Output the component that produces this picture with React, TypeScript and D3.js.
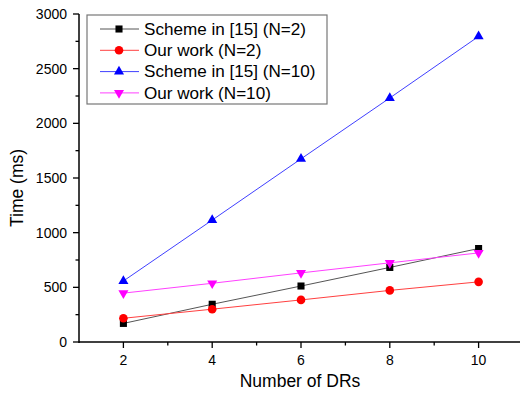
import { useEffect, useRef } from 'react';
import * as d3 from 'd3';

// Number of DRs on the x axis
const drCounts = [2, 4, 6, 8, 10];

// Time (ms) per series
const schemeN2 = [170, 345, 512, 682, 855];
const oursN2 = [217, 300, 385, 472, 550];
const schemeN10 = [558, 1115, 1675, 2232, 2795];
const oursN10 = [447, 537, 632, 724, 815];

const seriesNames = [
  'Scheme in [15] (N=2)',
  'Our work (N=2)',
  'Scheme in [15] (N=10)',
  'Our work (N=10)',
];

const xTicks = [2, 4, 6, 8, 10];
const yTicks = [0, 500, 1000, 1500, 2000, 2500, 3000];

const WIDTH = 520;
const HEIGHT = 396;

export default function App() {
  const svgRef = useRef<SVGSVGElement>(null);

  useEffect(() => {
    if (!svgRef.current) return;
    d3.select(svgRef.current).selectAll('*').remove();

    const svg = d3.select(svgRef.current);
    const font = 'Arial, "Liberation Sans", sans-serif';

    // Scales
    const x = d3.scaleLinear().domain([1, 11]).range([79, 523]);
    const y = d3.scaleLinear().domain([0, 3000]).range([342, 14]);

    const series = [
      { name: seriesNames[0], values: schemeN2, color: '#000000', line: '#555555', shape: 'square' },
      { name: seriesNames[1], values: oursN2, color: '#ff0000', line: '#ff4040', shape: 'circle' },
      { name: seriesNames[2], values: schemeN10, color: '#0000ff', line: '#4040ff', shape: 'up' },
      { name: seriesNames[3], values: oursN10, color: '#ff00ff', line: '#ff40ff', shape: 'down' },
    ];

    const symbolFor = (shape: string) => {
      if (shape === 'square') return d3.symbol(d3.symbolSquare, 50)();
      if (shape === 'circle') return d3.symbol(d3.symbolCircle, 58)();
      return d3.symbol(d3.symbolTriangle, 44)();
    };

    // Axes
    const axisG = svg.append('g').attr('font-family', font);

    // X axis
    const xAxis = axisG.append('g').attr('transform', 'translate(0,342)');
    xAxis.append('line')
      .attr('x1', 79).attr('x2', 520)
      .attr('stroke', '#000').attr('stroke-width', 1.5);
    xAxis.selectAll('.xmajor')
      .data(xTicks)
      .enter()
      .append('line')
      .attr('x1', d => x(d)).attr('x2', d => x(d))
      .attr('y1', 0).attr('y2', 6)
      .attr('stroke', '#000').attr('stroke-width', 1.3);
    xAxis.selectAll('.xminor')
      .data([3, 5, 7, 9])
      .enter()
      .append('line')
      .attr('x1', d => x(d)).attr('x2', d => x(d))
      .attr('y1', 0).attr('y2', 3.5)
      .attr('stroke', '#000').attr('stroke-width', 1.3);
    xAxis.selectAll('.xlabel')
      .data(xTicks)
      .enter()
      .append('text')
      .attr('x', d => x(d))
      .attr('y', 23)
      .attr('text-anchor', 'middle')
      .style('font-size', '14px')
      .text(d => d);

    // Y axis
    const yAxis = axisG.append('g').attr('transform', 'translate(79,0)');
    yAxis.append('line')
      .attr('y1', 14).attr('y2', 343)
      .attr('stroke', '#000').attr('stroke-width', 1.5);
    yAxis.selectAll('.ymajor')
      .data(yTicks)
      .enter()
      .append('line')
      .attr('x1', -6).attr('x2', 0)
      .attr('y1', d => y(d)).attr('y2', d => y(d))
      .attr('stroke', '#000').attr('stroke-width', 1.3);
    yAxis.selectAll('.yminor')
      .data(d3.range(250, 3000, 500))
      .enter()
      .append('line')
      .attr('x1', -3.5).attr('x2', 0)
      .attr('y1', d => y(d)).attr('y2', d => y(d))
      .attr('stroke', '#000').attr('stroke-width', 1.3);
    yAxis.selectAll('.ylabel')
      .data(yTicks)
      .enter()
      .append('text')
      .attr('x', -12)
      .attr('y', d => y(d))
      .attr('dy', '0.35em')
      .attr('text-anchor', 'end')
      .style('font-size', '14px')
      .text(d => d);

    // Axis titles
    axisG.append('text')
      .attr('x', 300)
      .attr('y', 387)
      .attr('text-anchor', 'middle')
      .style('font-size', '17.5px')
      .text('Number of DRs');

    axisG.append('text')
      .attr('transform', 'translate(23,188) rotate(-90)')
      .attr('text-anchor', 'middle')
      .style('font-size', '17.5px')
      .text('Time (ms)');

    // Lines and markers
    const line = d3.line<number>()
      .x((_d, i) => x(drCounts[i]))
      .y(d => y(d));

    series.forEach(s => {
      svg.append('path')
        .datum(s.values)
        .attr('d', line)
        .attr('fill', 'none')
        .attr('stroke', s.line)
        .attr('stroke-width', 1);

      svg.selectAll(null)
        .data(s.values)
        .enter()
        .append('path')
        .attr('d', symbolFor(s.shape))
        .attr('transform', (d, i) =>
          `translate(${x(drCounts[i])},${y(d)})${s.shape === 'down' ? ' rotate(180)' : ''}`)
        .attr('fill', s.color);
    });

    // Legend
    const legend = svg.append('g').attr('font-family', font);
    legend.append('rect')
      .attr('x', 87).attr('y', 15)
      .attr('width', 240).attr('height', 89)
      .attr('fill', '#fff')
      .attr('stroke', '#777')
      .attr('stroke-width', 1.2);

    series.forEach((s, i) => {
      const ly = 29 + i * 21.3;
      legend.append('line')
        .attr('x1', 100).attr('x2', 139)
        .attr('y1', ly).attr('y2', ly)
        .attr('stroke', s.line).attr('stroke-width', 1);
      legend.append('path')
        .attr('d', symbolFor(s.shape))
        .attr('transform', `translate(119,${ly})${s.shape === 'down' ? ' rotate(180)' : ''}`)
        .attr('fill', s.color);
      // legend labels in the original are a bit wider than plain Arial
      legend.append('text')
        .attr('transform', `translate(144,${ly}) scale(1.07,1)`)
        .attr('dy', '0.36em')
        .style('font-size', '16px')
        .text(s.name);
    });
  }, []);

  return (
    <svg
      ref={svgRef}
      width={WIDTH}
      height={HEIGHT}
      style={{ position: 'absolute', left: 0, top: 0, background: '#fff' }}
    />
  );
}
